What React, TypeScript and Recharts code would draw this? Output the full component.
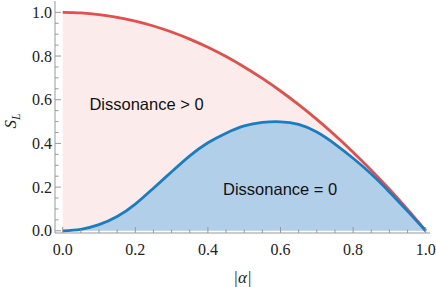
import React from "react";
import {
  ComposedChart,
  Area,
  Line,
  XAxis,
  YAxis,
  ReferenceDot,
} from "recharts";

// |alpha| sample points and the two boundary curves
const alpha = [
  0, 0.05, 0.1, 0.15, 0.2, 0.25, 0.3, 0.35, 0.4, 0.45, 0.5,
  0.55, 0.6, 0.65, 0.7, 0.75, 0.8, 0.85, 0.9, 0.95, 1,
];
const upperS = [
  1, 0.9975, 0.99, 0.9775, 0.96, 0.9375, 0.91, 0.8775, 0.84, 0.7975, 0.75,
  0.6975, 0.64, 0.5775, 0.51, 0.4375, 0.36, 0.2775, 0.19, 0.0975, 0,
];
const lowerS = [
  0, 0.007, 0.028, 0.065, 0.122, 0.195, 0.27, 0.343, 0.403, 0.447, 0.48,
  0.496, 0.499, 0.487, 0.452, 0.397, 0.332, 0.26, 0.178, 0.09, 0,
];
const ticks = alpha;

const data = alpha.map((a, i) => ({ a, upper: upperS[i], lower: lowerS[i] }));

const FRAME = "#999999";
const RED = "#e0504c";
const BLUE = "#1b7cc0";
const serif = "'Liberation Serif', 'Times New Roman', serif";
const sans = "'Liberation Sans', Arial, sans-serif";

const isMajor = (v: number) => Math.abs(v * 5 - Math.round(v * 5)) < 1e-6;
const len = (v: number) => (isMajor(v) ? 6 : 3.5);
const tickText = { fontFamily: serif, fontSize: 16, fill: "#222" };

const BottomTick = (p: any) => {
  const v = p.payload.value;
  return (
    <g>
      <line x1={p.x} x2={p.x} y1={p.y} y2={p.y - len(v)} stroke={FRAME} />
      {isMajor(v) && (
        <text x={p.x} y={p.y + 22} textAnchor="middle" style={tickText}>
          {v.toFixed(1)}
        </text>
      )}
    </g>
  );
};

const TopTick = (p: any) => (
  <line x1={p.x} x2={p.x} y1={p.y} y2={p.y + len(p.payload.value)} stroke={FRAME} />
);

const LeftTick = (p: any) => {
  const v = p.payload.value;
  return (
    <g>
      <line x1={p.x} x2={p.x + len(v)} y1={p.y} y2={p.y} stroke={FRAME} />
      {isMajor(v) && (
        <text x={p.x - 3} y={p.y + 5.5} textAnchor="end" style={tickText}>
          {v.toFixed(1)}
        </text>
      )}
    </g>
  );
};

const RightTick = (p: any) => (
  <line x1={p.x} x2={p.x - len(p.payload.value)} y1={p.y} y2={p.y} stroke={FRAME} />
);

const xDomain = [-0.0212, 1.0118];
const yDomain = [-0.0101, 1.052];

export default function App() {
  return (
    <div style={{ position: "absolute", left: 0, top: 0, background: "#fff" }}>
      <ComposedChart
        width={436}
        height={287}
        data={data}
        margin={{ top: 1, right: 6, left: 0, bottom: 0 }}
      >
        <XAxis
          xAxisId="b"
          dataKey="a"
          type="number"
          domain={xDomain}
          ticks={ticks}
          interval={0}
          allowDataOverflow
          height={54}
          tickSize={0}
          tickMargin={0}
          axisLine={{ stroke: FRAME }}
          tick={BottomTick}
          label={{
            value: "|α|",
            position: "insideBottom",
            offset: 4,
            style: { fontFamily: serif, fontStyle: "italic", fontSize: 17, fill: "#222" },
          }}
        />
        <XAxis
          xAxisId="t"
          dataKey="a"
          type="number"
          orientation="top"
          domain={xDomain}
          ticks={ticks}
          interval={0}
          allowDataOverflow
          height={0}
          tickSize={0}
          tickMargin={0}
          axisLine={{ stroke: FRAME }}
          tick={TopTick}
        />
        <YAxis
          yAxisId="l"
          type="number"
          domain={yDomain}
          ticks={ticks}
          interval={0}
          allowDataOverflow
          width={55}
          tickSize={0}
          tickMargin={0}
          axisLine={{ stroke: FRAME }}
          tick={LeftTick}
        />
        <YAxis
          yAxisId="r"
          type="number"
          orientation="right"
          domain={yDomain}
          ticks={ticks}
          interval={0}
          allowDataOverflow
          width={0}
          tickSize={0}
          tickMargin={0}
          axisLine={{ stroke: FRAME }}
          tick={RightTick}
        />
        <Area
          xAxisId="b"
          yAxisId="l"
          type="natural"
          dataKey="upper"
          baseValue={0}
          stroke="none"
          fill="#fbeceb"
          fillOpacity={1}
          isAnimationActive={false}
        />
        <Area
          xAxisId="b"
          yAxisId="l"
          type="natural"
          dataKey="lower"
          baseValue={0}
          stroke="none"
          fill="#b1cfe9"
          fillOpacity={1}
          isAnimationActive={false}
        />
        <Line
          xAxisId="b"
          yAxisId="l"
          type="natural"
          dataKey="upper"
          stroke={RED}
          strokeWidth={2.8}
          dot={false}
          isAnimationActive={false}
        />
        <Line
          xAxisId="b"
          yAxisId="l"
          type="natural"
          dataKey="lower"
          stroke={BLUE}
          strokeWidth={2.8}
          dot={false}
          isAnimationActive={false}
        />
        <ReferenceDot
          xAxisId="b"
          yAxisId="l"
          x={0.231}
          y={0.58}
          r={0}
          ifOverflow="visible"
          label={{ value: "Dissonance > 0", position: "center", style: { fontFamily: sans, fontSize: 16.5, fill: "#111" } }}
        />
        <ReferenceDot
          xAxisId="b"
          yAxisId="l"
          x={0.599}
          y={0.1925}
          r={0}
          ifOverflow="visible"
          label={{ value: "Dissonance = 0", position: "center", style: { fontFamily: sans, fontSize: 16.5, fill: "#111" } }}
        />
      </ComposedChart>
      <svg
        width={30}
        height={60}
        style={{ position: "absolute", left: 0, top: 90 }}
      >
        <text
          transform="translate(16,31) rotate(-90)"
          textAnchor="middle"
          style={{ fontFamily: serif, fontSize: 17, fontStyle: "italic", fill: "#222" }}
        >
          S
          <tspan fontSize={12} dy={4}>L</tspan>
        </text>
      </svg>
    </div>
  );
}
